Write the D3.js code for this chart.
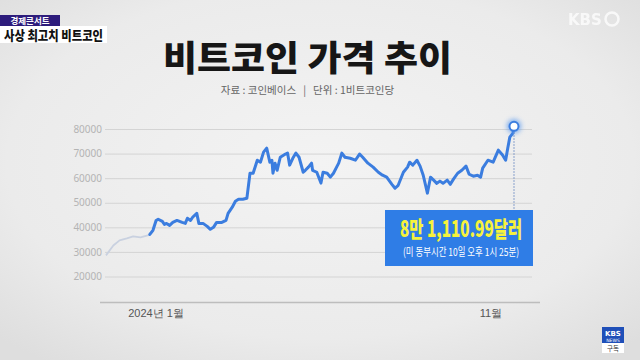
<!DOCTYPE html>
<html>
<head>
<meta charset="utf-8">
<script src="https://cdn.jsdelivr.net/npm/d3@7"></script>
<style>
  html, body { margin: 0; padding: 0; background: #e9e9e9; }
  svg { display: block; }
</style>
</head>
<body>
<div id="chart"></div>
<script>
// ** chart data **
const title = "비트코인 가격 추이";
const subtitle = "자료 : 코인베이스   |   단위 : 1비트코인당";
const badgeTop = "경제콘서트";
const badgeMain = "사상 최고치 비트코인";
const calloutMain = "8만 1,110.99달러";
const calloutSub = "(미 동부시간 10일 오후 1시 25분)";

// price dates (daily-ish samples)
const dates = [
  "2023-10-16","2023-10-23","2023-10-29","2023-11-05","2023-11-11","2023-11-18","2023-11-25",
  "2023-11-27","2023-11-30","2023-12-03","2023-12-05","2023-12-09","2023-12-11","2023-12-13",
  "2023-12-16","2023-12-19","2023-12-23","2023-12-28","2023-12-31","2024-01-02","2024-01-05",
  "2024-01-07","2024-01-11","2024-01-13","2024-01-17","2024-01-21","2024-01-24","2024-01-27",
  "2024-01-30","2024-02-04","2024-02-08","2024-02-10","2024-02-14","2024-02-17","2024-02-20",
  "2024-02-24","2024-02-28","2024-03-02","2024-03-05","2024-03-09","2024-03-12","2024-03-15",
  "2024-03-18","2024-03-21","2024-03-23","2024-03-24","2024-03-26","2024-03-28","2024-03-31",
  "2024-04-05","2024-04-07","2024-04-09","2024-04-12","2024-04-15","2024-04-18","2024-04-22",
  "2024-04-24","2024-04-27","2024-04-30","2024-05-01","2024-05-05","2024-05-09","2024-05-11",
  "2024-05-15","2024-05-18","2024-05-21","2024-05-24","2024-05-26","2024-05-29","2024-06-01",
  "2024-06-06","2024-06-11","2024-06-15","2024-06-18","2024-06-23","2024-06-28","2024-07-03",
  "2024-07-07","2024-07-11","2024-07-16","2024-07-19","2024-07-22","2024-07-27","2024-07-31",
  "2024-08-02","2024-08-05","2024-08-09","2024-08-12","2024-08-15","2024-08-19","2024-08-22",
  "2024-08-25","2024-08-28","2024-08-31","2024-09-03","2024-09-07","2024-09-10","2024-09-13",
  "2024-09-17","2024-09-21","2024-09-25","2024-09-28","2024-10-02","2024-10-06","2024-10-09",
  "2024-10-11","2024-10-16","2024-10-21","2024-10-26","2024-10-30","2024-11-02","2024-11-04",
  "2024-11-06","2024-11-09","2024-11-10"
];
// price in USD per bitcoin
const prices = [
  28600,32600,34700,35500,36300,35900,36700,
  37100,38800,42800,43300,42400,41200,41600,
  40800,42000,42800,42000,41600,43700,42800,
  44100,45700,41600,41600,40400,39200,40000,
  42000,42000,42800,45700,48200,50600,51400,
  51400,51800,62000,62000,67300,66500,70600,
  72200,66500,67300,62000,66100,63200,68500,
  69800,70200,65300,68100,70200,68500,62400,
  63200,64500,66100,63200,62400,58000,62400,
  62000,60400,62000,64500,66100,70200,68500,
  68100,67300,69800,68500,66100,64500,62400,
  61200,60400,57500,55900,57100,62400,64500,
  66500,65300,67300,64900,61200,53900,60400,
  59200,57900,58800,57900,59200,57500,59600,
  62000,63200,64900,61600,60800,61200,60400,
  64100,67300,66500,71400,69400,67300,72200,
  76700,78300,81110.99
];
// first date drawn in the highlighted (blue) line
const highlightStart = "2023-11-27";

// axis ticks
const yTicks = [20000, 30000, 40000, 50000, 60000, 70000, 80000];
const xTickDates = ["2024-01-01", "2024-11-01"];
const xTickLabels = ["2024년 1월", "11월"];

// ** page size **
const wid = 640;
const hei = 360;
const font = "'Noto Sans CJK KR', 'Noto Sans', sans-serif";

const parse = d3.timeParse("%Y-%m-%d");
const data = dates.map((d, i) => ({ date: parse(d), value: prices[i] }));
const hlDate = parse(highlightStart);
const faded = data.filter(d => d.date <= hlDate);
const main = data.filter(d => d.date >= hlDate);
const last = data[data.length - 1];

const svg = d3.select("#chart").append("svg")
  .attr("width", wid)
  .attr("height", hei)
  .style("font-family", font);

const defs = svg.append("defs");

// paper-ish background
const bg = defs.append("radialGradient").attr("id", "bg")
  .attr("cx", "50%").attr("cy", "45%").attr("r", "70%");
bg.append("stop").attr("offset", "0%").attr("stop-color", "#f3f3f3");
bg.append("stop").attr("offset", "70%").attr("stop-color", "#ebebeb");
bg.append("stop").attr("offset", "100%").attr("stop-color", "#dedede");
svg.append("rect").attr("width", wid).attr("height", hei).attr("fill", "url(#bg)");

// glow for the end marker
const glow = defs.append("filter").attr("id", "glow")
  .attr("x", "-100%").attr("y", "-100%").attr("width", "300%").attr("height", "300%");
glow.append("feGaussianBlur").attr("stdDeviation", 2.5);

// ** scales **
const xScale = d3.scaleTime()
  .domain([parse("2023-10-16"), parse("2024-11-10")])
  .range([106, 514]);
const yScale = d3.scaleLinear()
  .domain([20000, 80000])
  .range([276.5, 129]);

// ** grid + y labels **
const yAxis = d3.axisLeft(yScale)
  .tickValues(yTicks)
  .tickSize(-(532 - 105))
  .tickPadding(3)
  .tickFormat(d3.format("d"));
const gy = svg.append("g")
  .attr("transform", "translate(105,0)")
  .call(yAxis);
gy.select(".domain").remove();
gy.selectAll("line").attr("stroke", "#d4d4d4").attr("stroke-width", 1);
gy.selectAll("text")
  .attr("fill", "#b4b4b4")
  .style("font-family", "'Noto Sans', sans-serif")
  .style("font-size", "10px");

// ** x axis **
const xAxis = d3.axisBottom(xScale)
  .tickValues(xTickDates.map(parse))
  .tickSize(0)
  .tickPadding(7)
  .tickFormat((d, i) => xTickLabels[i]);
const gx = svg.append("g")
  .attr("transform", "translate(0,302.5)")
  .call(xAxis);
gx.select(".domain").remove();
gx.append("line")
  .attr("x1", 100).attr("x2", 540)
  .attr("stroke", "#bdbdbd").attr("stroke-width", 1.5);
gx.selectAll(".tick text")
  .attr("text-anchor", "end")
  .attr("dx", -3)
  .attr("fill", "#555")
  .style("font-size", "11px");

// ** lines **
const line = d3.line()
  .x(d => xScale(d.date))
  .y(d => yScale(d.value))
  .curve(d3.curveLinear);

svg.append("path")
  .datum(faded)
  .attr("fill", "none")
  .attr("stroke", "#c9d1e0")
  .attr("stroke-width", 1.8)
  .attr("stroke-linejoin", "round")
  .attr("d", line);

svg.append("path")
  .datum(main)
  .attr("fill", "none")
  .attr("stroke", "#3b7ddf")
  .attr("stroke-width", 3)
  .attr("stroke-linejoin", "round")
  .attr("stroke-linecap", "round")
  .attr("d", line);

// ** callout **
const lx = xScale(last.date);
const ly = yScale(last.value);
const boxX = 385, boxY = 210, boxW = 148, boxH = 56;

svg.append("line")
  .attr("x1", lx).attr("x2", lx)
  .attr("y1", ly).attr("y2", boxY)
  .attr("stroke", "#7d98c8")
  .attr("stroke-width", 1.2)
  .attr("stroke-dasharray", "1.5,1.5");

svg.append("circle")
  .attr("cx", lx).attr("cy", ly).attr("r", 7)
  .attr("fill", "#4a90f0").attr("opacity", 0.7)
  .attr("filter", "url(#glow)");
svg.append("circle")
  .attr("cx", lx).attr("cy", ly).attr("r", 4.5)
  .attr("fill", "#fff")
  .attr("stroke", "#3b7ddf")
  .attr("stroke-width", 2);

svg.append("rect")
  .attr("x", boxX).attr("y", boxY)
  .attr("width", boxW).attr("height", boxH)
  .attr("fill", "#2f7de6");
svg.append("text")
  .attr("x", boxX + boxW / 2 + 2).attr("y", boxY + 27)
  .attr("text-anchor", "middle")
  .attr("fill", "#f6f23c")
  .style("font-size", "22px")
  .style("font-weight", 900)
  .attr("textLength", 122)
  .attr("lengthAdjust", "spacingAndGlyphs")
  .text(calloutMain);
svg.append("text")
  .attr("x", boxX + boxW / 2 + 2).attr("y", boxY + 46)
  .attr("text-anchor", "middle")
  .attr("fill", "#fff")
  .style("font-size", "11px")
  .attr("textLength", 116)
  .attr("lengthAdjust", "spacingAndGlyphs")
  .text(calloutSub);

// ** title **
svg.append("text")
  .attr("x", 307.5).attr("y", 71)
  .attr("text-anchor", "middle")
  .attr("fill", "#161616")
  .style("font-size", "35px")
  .style("font-weight", 900)
  .attr("textLength", 289)
  .attr("lengthAdjust", "spacingAndGlyphs")
  .text(title);
svg.append("text")
  .attr("x", 307.5).attr("y", 94)
  .attr("text-anchor", "middle")
  .attr("fill", "#666")
  .style("font-size", "10.5px")
  .style("white-space", "pre")
  .attr("xml:space", "preserve")
  .text(subtitle);

// ** broadcast badge (top left) **
svg.append("rect")
  .attr("x", 0).attr("y", 15).attr("width", 60).attr("height", 11)
  .attr("fill", "#2d1c7c");
svg.append("text")
  .attr("x", 30).attr("y", 24)
  .attr("text-anchor", "middle")
  .attr("fill", "#fff")
  .style("font-size", "8.5px")
  .style("font-weight", 700)
  .text(badgeTop);
svg.append("rect")
  .attr("x", 0).attr("y", 26).attr("width", 107).attr("height", 17)
  .attr("fill", "#ffffff");
svg.append("text")
  .attr("x", 4).attr("y", 39.5)
  .attr("fill", "#111")
  .style("font-size", "13px")
  .style("font-weight", 900)
  .attr("textLength", 99)
  .attr("lengthAdjust", "spacingAndGlyphs")
  .text(badgeMain);

// ** KBS logos **
const logo = svg.append("g").attr("opacity", 0.75);
logo.append("text")
  .attr("x", 568).attr("y", 25)
  .attr("fill", "#fff")
  .style("font-family", "'DejaVu Sans', sans-serif")
  .style("font-size", "15px")
  .style("font-weight", 700)
  .text("KBS");
logo.append("circle")
  .attr("cx", 612).attr("cy", 19).attr("r", 6.5)
  .attr("fill", "none").attr("stroke", "#fff").attr("stroke-width", 2.5);

const news = svg.append("g");
news.append("rect")
  .attr("x", 602).attr("y", 327).attr("width", 22).attr("height", 26)
  .attr("fill", "#fff");
news.append("rect")
  .attr("x", 602).attr("y", 327).attr("width", 22).attr("height", 16)
  .attr("fill", "#1f4fb8");
news.append("text")
  .attr("x", 613).attr("y", 336).attr("text-anchor", "middle")
  .attr("fill", "#fff").style("font-size", "7px").style("font-weight", 700)
  .style("font-family", "'DejaVu Sans', sans-serif")
  .text("KBS");
news.append("text")
  .attr("x", 613).attr("y", 341.5).attr("text-anchor", "middle")
  .attr("fill", "#fff").style("font-size", "4.5px")
  .style("font-family", "'DejaVu Sans', sans-serif")
  .text("NEWS");
news.append("text")
  .attr("x", 613).attr("y", 351).attr("text-anchor", "middle")
  .attr("fill", "#333").style("font-size", "6.5px")
  .text("구독");
</script>
</body>
</html>
